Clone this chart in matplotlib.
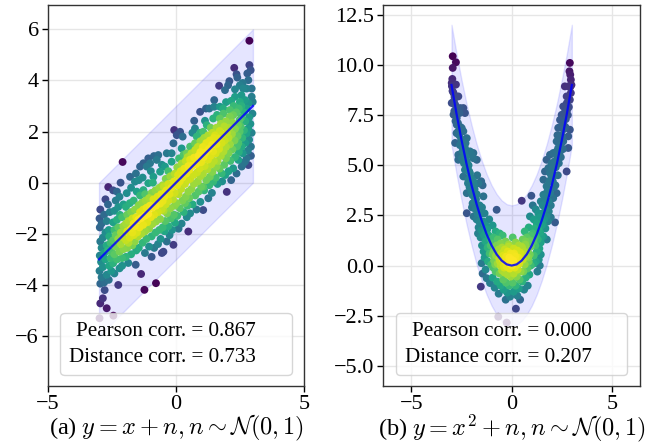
import numpy as np
import matplotlib
matplotlib.use("Agg")
import matplotlib.pyplot as plt
from matplotlib.lines import Line2D

plt.rcParams["font.family"] = ["Liberation Serif", "DejaVu Serif"]
plt.rcParams["mathtext.fontset"] = "cm"

# (a) y = x + n : scatter points
lin_points = np.array([
    # x in [-3, -2.5]
    (-2.98, -5.30), (-2.95, -4.72), (-2.70, -4.91), (-2.85, -4.52), (-2.78, -4.20), (-2.95, -3.95),
    (-2.80, -3.90), (-2.62, -3.80), (-2.90, -3.70), (-2.70, -3.60), (-2.98, -3.45), (-2.85, -3.30),
    (-2.60, -3.25), (-2.92, -3.10), (-2.75, -3.00), (-2.55, -2.95), (-2.97, -2.85), (-2.80, -2.75),
    (-2.65, -2.65), (-2.90, -2.55), (-2.70, -2.45), (-2.55, -2.35), (-2.95, -2.30), (-2.85, -2.15),
    (-2.60, -2.10), (-2.75, -1.95), (-2.97, -1.75), (-2.62, -1.85), (-2.90, -1.60), (-2.70, -1.50),
    (-2.98, -1.40), (-2.80, -1.25), (-2.58, -1.15), (-2.95, -1.05), (-2.65, -0.85), (-2.75, -0.65),
    (-2.64, -0.17), (-2.52, -3.45), (-2.52, -2.70),
    # x in [-2.5, -2]
    (-2.44, -5.20), (-2.25, -4.00), (-2.40, -3.55), (-2.20, -3.35), (-2.45, -3.15), (-2.30, -3.00),
    (-2.10, -2.95), (-2.40, -2.80), (-2.20, -2.70), (-2.05, -2.60), (-2.35, -2.50), (-2.15, -2.40),
    (-2.45, -2.25), (-2.25, -2.20), (-2.05, -2.15), (-2.35, -2.05), (-2.15, -1.95), (-2.40, -1.85),
    (-2.25, -1.75), (-2.05, -1.70), (-2.45, -1.55), (-2.30, -1.45), (-2.10, -1.35), (-2.18, -1.26),
    (-2.40, -1.10), (-2.25, -0.95), (-2.05, -0.85), (-2.35, -0.70), (-2.20, -0.55), (-2.30, -0.35),
    (-2.16, 0.00), (-2.08, 0.81), (-2.45, -0.30), (-2.10, -3.25),
    # x in [-2, -1.5]
    (-1.86, -3.14), (-1.57, -3.21), (-1.95, -2.90), (-1.75, -2.80), (-1.55, -2.65), (-1.90, -2.55),
    (-1.70, -2.45), (-1.60, -2.30), (-1.95, -2.25), (-1.80, -2.15), (-1.65, -2.05), (-1.52, -1.95),
    (-1.90, -1.90), (-1.75, -1.80), (-1.60, -1.70), (-1.95, -1.60), (-1.85, -1.50), (-1.70, -1.40),
    (-1.55, -1.35), (-1.90, -1.25), (-1.75, -1.15), (-1.60, -1.05), (-1.95, -0.95), (-1.80, -0.80),
    (-1.65, -0.70), (-1.92, -0.41), (-1.53, -0.35), (-1.75, -0.20), (-1.60, 0.04), (-1.79, 0.23),
    (-1.56, 0.36), (-1.85, -2.35), (-1.70, -1.95), (-1.65, -1.60),
    # x in [-1.5, -1]
    (-1.23, -4.19), (-1.36, -3.57), (-1.21, -2.75), (-1.45, -2.55), (-1.05, -2.50), (-1.30, -2.35),
    (-1.15, -2.20), (-1.48, -2.10), (-1.35, -2.00), (-1.20, -1.90), (-1.05, -1.80), (-1.42, -1.75),
    (-1.28, -1.65), (-1.12, -1.55), (-1.47, -1.45), (-1.35, -1.38), (-1.22, -1.30), (-1.08, -1.22),
    (-1.40, -1.15), (-1.28, -1.05), (-1.15, -0.98), (-1.02, -0.90), (-1.45, -0.88), (-1.32, -0.78),
    (-1.18, -0.70), (-1.05, -0.60), (-1.40, -0.50), (-1.27, -0.29), (-1.08, -0.02), (-1.45, 0.10),
    (-1.30, 0.20), (-1.14, 0.63), (-1.40, 0.63), (-1.27, 0.76), (-1.01, 0.76), (-1.08, 0.95),
    (-1.20, -0.45),
    # x in [-1, -0.5]
    (-0.78, -3.93), (-0.95, -2.90), (-0.55, -2.75), (-0.85, -2.55), (-0.70, -2.40), (-0.60, -2.20),
    (-0.95, -2.10), (-0.80, -1.95), (-0.65, -1.85), (-0.52, -1.75), (-0.92, -1.62), (-0.78, -1.52),
    (-0.62, -1.42), (-0.98, -1.35), (-0.85, -1.25), (-0.70, -1.15), (-0.55, -1.05), (-0.92, -0.98),
    (-0.78, -0.90), (-0.62, -0.82), (-0.52, -0.72), (-0.88, -0.65), (-0.72, -0.55), (-0.58, -0.45),
    (-0.95, -0.40), (-0.80, -0.30), (-0.65, -0.20), (-0.52, -0.10), (-0.90, 0.00), (-0.88, 0.23),
    (-0.62, 0.43), (-0.75, 0.89), (-0.86, 1.04), (-0.69, 1.08), (-0.55, 0.70), (-0.98, 0.45),
    # x in [-0.5, 0]
    (-0.49, -2.70), (-0.36, -2.30), (-0.10, -2.43), (-0.25, -2.05), (-0.45, -1.90), (-0.15, -1.85),
    (-0.30, -1.70), (-0.04, -1.57), (-0.42, -1.50), (-0.20, -1.40), (-0.08, -1.25), (-0.35, -1.20),
    (-0.48, -1.10), (-0.22, -1.00), (-0.05, -0.90), (-0.40, -0.85), (-0.30, -0.70), (-0.12, -0.65),
    (-0.45, -0.55), (-0.25, -0.45), (-0.05, -0.40), (-0.38, -0.30), (-0.18, -0.20), (-0.48, -0.15),
    (-0.30, -0.05), (-0.08, 0.05), (-0.40, 0.15), (-0.22, 0.25), (-0.05, 0.35), (-0.43, 0.63),
    (-0.17, 0.82), (-0.36, 1.15), (-0.17, 1.15), (-0.10, 1.54), (-0.07, 2.06), (-0.30, 0.45),
    # x in [0, 0.5]
    (0.48, -1.91), (0.10, -1.80), (0.22, -1.60), (0.42, -1.35), (0.05, -1.30), (0.30, -1.15),
    (0.15, -1.00), (0.45, -0.90), (0.02, -0.80), (0.25, -0.70), (0.38, -0.55), (0.10, -0.45),
    (0.48, -0.35), (0.20, -0.25), (0.05, -0.10), (0.35, -0.05), (0.15, 0.05), (0.45, 0.10),
    (0.25, 0.20), (0.08, 0.30), (0.40, 0.35), (0.18, 0.45), (0.32, 0.55), (0.05, 0.60),
    (0.48, 0.65), (0.22, 0.75), (0.38, 0.85), (0.12, 0.95), (0.45, 1.00), (0.42, 1.15),
    (0.22, 1.34), (0.30, 1.10), (0.26, 1.80), (0.03, 1.86), (0.16, 1.99), (0.35, -0.80),
    # x in [0.5, 1]
    (0.55, -1.20), (0.80, -1.05), (0.65, -0.85), (0.95, -0.75), (0.52, -0.60), (0.75, -0.50),
    (0.88, -0.35), (0.60, -0.25), (0.98, -0.15), (0.70, -0.05), (0.85, 0.05), (0.55, 0.15),
    (0.95, 0.25), (0.68, 0.30), (0.82, 0.40), (0.52, 0.50), (0.92, 0.55), (0.62, 0.65),
    (0.78, 0.72), (0.98, 0.80), (0.55, 0.90), (0.70, 0.98), (0.88, 1.05), (0.60, 1.15),
    (0.95, 1.20), (0.75, 1.28), (0.85, 1.40), (0.55, 1.41), (0.74, 1.54), (0.95, 1.62),
    (0.64, 1.95), (0.81, 1.80), (0.94, 1.95), (0.74, 2.12), (0.71, 2.42), (0.94, 2.77),
    # x in [1, 1.5]
    (1.06, -1.07), (1.26, -0.61), (1.40, -0.40), (1.10, -0.30), (1.06, -0.16), (1.30, -0.10),
    (1.45, 0.04), (1.18, 0.10), (1.32, 0.23), (1.05, 0.35), (1.42, 0.42), (1.22, 0.52),
    (1.12, 0.65), (1.38, 0.72), (1.48, 0.85), (1.25, 0.90), (1.08, 1.00), (1.35, 1.05),
    (1.15, 1.18), (1.45, 1.22), (1.28, 1.32), (1.05, 1.40), (1.40, 1.48), (1.18, 1.55),
    (1.32, 1.65), (1.48, 1.75), (1.10, 1.75), (1.25, 1.85), (1.42, 1.95), (1.06, 1.99),
    (1.35, 2.15), (1.20, 2.25), (1.45, 2.51), (1.13, 2.42), (1.17, 2.90), (1.30, 2.90),
    (1.49, 2.97), (1.49, 3.23),
    # x in [1.5, 2]
    (1.98, -0.36), (1.62, -0.05), (1.80, 0.05), (1.55, 0.20), (1.78, 0.36), (1.92, 0.30),
    (1.58, 0.63), (1.70, 0.55), (1.88, 0.70), (1.62, 0.85), (1.95, 0.95), (1.75, 1.05),
    (1.55, 1.15), (1.85, 1.22), (1.68, 1.32), (1.95, 1.40), (1.58, 1.50), (1.78, 1.55),
    (1.90, 1.65), (1.65, 1.72), (1.52, 1.85), (1.82, 1.88), (1.98, 1.95), (1.70, 2.02),
    (1.58, 2.15), (1.88, 2.20), (1.75, 2.30), (1.95, 2.40), (1.71, 2.51), (1.60, 2.65),
    (1.85, 2.70), (1.71, 2.97), (1.84, 2.90), (1.95, 3.15), (1.68, 3.79), (1.91, 3.62),
    # x in [2, 2.5]
    (2.15, 0.10), (2.36, 0.36), (2.05, 0.45), (2.23, 0.56), (2.43, 0.89), (2.12, 0.85),
    (2.30, 1.00), (2.05, 1.15), (2.45, 1.20), (2.20, 1.30), (2.38, 1.42), (2.10, 1.50),
    (2.43, 1.54), (2.28, 1.65), (2.05, 1.75), (2.40, 1.82), (2.18, 1.90), (2.48, 2.00),
    (2.30, 2.10), (2.08, 2.15), (2.42, 2.25), (2.20, 2.35), (2.48, 2.45), (2.10, 2.58),
    (2.23, 2.64), (2.35, 2.75), (2.10, 2.84), (2.45, 2.90), (2.25, 3.00), (2.49, 3.16),
    (2.15, 3.20), (2.30, 3.36), (2.30, 3.65), (2.49, 3.81), (2.08, 3.97), (2.03, 3.81),
    (2.39, 4.11), (2.36, 4.24), (2.27, 4.49),
    # x in [2.5, 3]
    (2.62, 0.76), (2.69, 0.82), (2.56, 0.63), (2.82, 0.69), (2.75, 0.95), (2.92, 1.05),
    (2.60, 1.15), (2.80, 1.25), (2.92, 1.41), (2.56, 1.41), (2.70, 1.55), (2.85, 1.68),
    (2.58, 1.75), (2.75, 1.93), (2.95, 1.95), (2.65, 2.05), (2.82, 2.12), (2.52, 2.20),
    (2.90, 2.30), (2.70, 2.40), (2.55, 2.55), (2.85, 2.55), (2.98, 2.70), (2.65, 2.75),
    (2.75, 2.90), (2.55, 3.00), (2.82, 3.10), (2.99, 3.16), (2.69, 3.23), (2.95, 3.36),
    (2.55, 3.42), (2.62, 3.68), (2.75, 3.68), (2.95, 3.68), (2.82, 4.01), (2.78, 4.27),
    (2.91, 4.40), (2.86, 4.60), (2.86, 5.55), (2.60, 3.90),
])

# (b) y = x^2 + n : scatter points
quad_points = np.array([
    # x in [-3, -2.5]
    (-2.94, 10.43), (-2.78, 10.13), (-2.94, 9.85), (-2.99, 9.10), (-2.78, 9.02), (-2.98, 8.94),
    (-2.90, 8.60), (-2.66, 8.43), (-2.99, 8.10), (-2.82, 8.02), (-2.57, 7.85), (-2.90, 7.52),
    (-2.74, 7.35), (-2.74, 7.02), (-2.66, 6.69), (-2.82, 6.11), (-2.66, 5.52), (-2.66, 5.27),
    (-2.60, 7.60), (-2.55, 6.90), (-2.70, 7.80), (-2.85, 8.40), (-2.95, 8.70), (-2.62, 6.50),
    (-2.52, 6.30), (-2.80, 7.20), (-2.88, 8.20), (-2.68, 7.10), (-2.58, 6.00), (-2.75, 6.60),
    (-2.96, 9.30), (-2.86, 7.70),
    # x in [-2.5, -2]
    (-2.41, 7.85), (-2.33, 7.60), (-2.49, 6.85), (-2.41, 6.69), (-2.24, 6.35), (-2.33, 5.86),
    (-2.08, 5.69), (-2.00, 5.52), (-2.49, 5.35), (-2.24, 5.19), (-2.33, 4.77), (-2.08, 4.60),
    (-2.41, 4.44), (-2.16, 4.27), (-2.24, 3.61), (-2.24, 2.61), (-2.45, 6.20), (-2.35, 5.60),
    (-2.28, 5.40), (-2.15, 5.00), (-2.05, 4.40), (-2.40, 5.90), (-2.20, 4.90), (-2.10, 3.90),
    (-2.30, 6.10), (-2.45, 5.70), (-2.12, 4.70), (-2.38, 5.10), (-2.02, 3.70), (-2.18, 4.10),
    # x in [-2, -1.5]
    (-1.91, 5.61), (-1.91, 5.35), (-1.74, 5.27), (-1.99, 4.28), (-1.91, 4.19), (-1.66, 4.10),
    (-1.52, 4.20), (-1.74, 3.55), (-1.95, 3.50), (-1.85, 3.20), (-1.98, 2.90), (-1.80, 2.80),
    (-1.90, 2.45), (-1.75, 2.30), (-1.62, 2.20), (-1.68, 1.60), (-1.55, 1.40), (-1.60, 3.00),
    (-1.85, 3.80), (-1.70, 2.60), (-1.95, 3.10), (-1.58, 2.55), (-1.78, 3.30), (-1.65, 1.90),
    (-1.88, 4.00), (-1.52, 1.75), (-1.98, 3.80), (-1.72, 4.50),
    # x in [-1.5, -1]
    (-1.41, 3.45), (-1.45, 4.00), (-1.48, 2.90), (-1.35, 2.60), (-1.42, 2.20), (-1.30, 2.00),
    (-1.45, 1.70), (-1.22, 1.80), (-1.38, 1.50), (-1.15, 1.50), (-1.30, 1.20), (-1.05, 1.30),
    (-1.48, 1.00), (-1.20, 0.90), (-1.40, 0.70), (-1.10, 0.60), (-1.35, 0.40), (-1.50, 0.12),
    (-1.18, 0.20), (-1.02, 0.05), (-1.30, -0.20), (-1.25, -0.63), (-1.08, -0.87), (-1.54, -1.05),
    (-1.45, -0.40), (-1.12, 2.30), (-1.28, 1.65), (-1.05, 1.00),
    # x in [-1, -0.5]
    (-0.75, 2.78), (-0.95, 2.00), (-0.80, 1.70), (-0.60, 1.60), (-0.90, 1.40), (-0.70, 1.30),
    (-0.55, 1.10), (-0.98, 1.10), (-0.85, 0.90), (-0.65, 0.80), (-0.52, 0.60), (-0.95, 0.55),
    (-0.78, 0.50), (-0.62, 0.35), (-0.88, 0.25), (-0.70, 0.10), (-0.55, 0.00), (-0.92, -0.10),
    (-0.80, -0.30), (-0.60, -0.40), (-0.95, -0.60), (-0.72, -0.80), (-0.55, -1.00), (-0.85, -1.10),
    (-0.67, -2.55), (-0.65, -1.40), (-0.90, 0.70), (-0.75, 1.00), (-0.58, 0.20), (-0.82, 0.05),
    # x in [-0.5, 0]
    (-0.45, 1.50), (-0.30, 1.20), (-0.15, 1.05), (-0.48, 0.90), (-0.35, 0.80), (-0.20, 0.70),
    (-0.05, 0.60), (-0.42, 0.50), (-0.28, 0.45), (-0.12, 0.40), (-0.45, 0.30), (-0.32, 0.20),
    (-0.18, 0.15), (-0.05, 0.10), (-0.40, 0.00), (-0.25, -0.05), (-0.10, -0.15), (-0.48, -0.25),
    (-0.35, -0.35), (-0.20, -0.45), (-0.05, -0.55), (-0.42, -0.70), (-0.28, -0.85), (-0.12, -1.00),
    (-0.40, -1.20), (-0.22, -1.35), (-0.08, -1.55), (-0.30, -1.70), (-0.25, -2.84), (-0.15, 0.95),
    (-0.38, -0.10), (-0.02, 0.30),
    # x in [0, 0.5]
    (0.05, 1.40), (0.20, 1.15), (0.35, 1.00), (0.48, 0.95), (0.10, 0.85), (0.28, 0.75),
    (0.42, 0.65), (0.05, 0.55), (0.18, 0.45), (0.32, 0.40), (0.45, 0.35), (0.08, 0.25),
    (0.22, 0.20), (0.38, 0.10), (0.02, 0.00), (0.15, -0.10), (0.30, -0.20), (0.45, -0.30),
    (0.10, -0.40), (0.25, -0.55), (0.40, -0.70), (0.05, -0.85), (0.20, -1.00), (0.35, -1.15),
    (0.10, -1.30), (0.28, -1.50), (0.42, -1.70), (0.21, -2.15), (0.50, 3.23), (0.12, 0.60),
    (0.35, 0.25), (0.25, 0.05),
    # x in [0.5, 1]
    (0.91, 2.45), (0.98, 3.48), (0.85, 1.90), (0.65, 1.70), (0.95, 1.50), (0.75, 1.40),
    (0.55, 1.30), (0.88, 1.20), (0.68, 1.05), (0.52, 0.90), (0.95, 0.95), (0.80, 0.80),
    (0.62, 0.70), (0.90, 0.55), (0.72, 0.45), (0.55, 0.30), (0.85, 0.20), (0.65, 0.05),
    (0.95, 0.00), (0.78, -0.15), (0.58, -0.30), (0.88, -0.45), (0.70, -0.60), (0.52, -0.80),
    (0.80, -1.00), (0.62, -1.20), (0.92, 1.25), (0.70, 1.20), (0.58, 0.55), (0.82, 0.40),
    # x in [1, 1.5]
    (1.05, 3.00), (1.20, 2.80), (1.45, 3.20), (1.33, 2.60), (1.10, 2.30), (1.40, 2.40),
    (1.25, 2.10), (1.48, 2.00), (1.15, 1.85), (1.33, 1.80), (1.05, 1.60), (1.42, 1.65),
    (1.20, 1.45), (1.30, 1.30), (1.08, 1.20), (1.45, 1.15), (1.18, 1.00), (1.38, 0.85),
    (1.25, 0.70), (1.45, 0.55), (1.10, 0.50), (1.35, 0.30), (1.20, 0.20), (1.10, 0.10),
    (1.40, 0.00), (1.28, -0.30), (1.48, 1.45), (1.12, 1.35),
    # x in [1.5, 2]
    (1.91, 5.52), (1.74, 5.27), (1.99, 5.10), (1.83, 4.86), (1.66, 4.69), (1.91, 4.61),
    (1.58, 4.28), (1.74, 3.95), (1.91, 3.61), (1.58, 3.53), (1.66, 3.45), (1.83, 3.20),
    (1.55, 3.00), (1.95, 3.00), (1.70, 2.80), (1.52, 2.60), (1.74, 2.45), (1.85, 2.70),
    (1.62, 2.30), (1.80, 2.20), (1.55, 2.05), (1.95, 2.40), (1.68, 1.85), (1.75, 1.30),
    (1.58, 1.45), (1.88, 4.20), (1.65, 3.10), (1.98, 4.40), (1.52, 2.20), (1.78, 3.70),
    # x in [2, 2.5]
    (2.07, 5.61), (2.24, 6.19), (2.41, 6.44), (2.32, 5.86), (2.32, 6.86), (2.41, 7.26),
    (2.49, 7.51), (2.07, 3.36), (2.24, 3.61), (2.16, 2.15), (2.05, 4.20), (2.12, 4.50),
    (2.20, 4.90), (2.02, 4.80), (2.15, 5.20), (2.28, 5.40), (2.35, 5.10), (2.10, 3.90),
    (2.45, 6.00), (2.30, 4.50), (2.25, 5.70), (2.40, 6.90), (2.48, 6.50), (2.18, 4.00),
    (2.38, 5.60), (2.05, 5.00), (2.45, 5.40), (2.28, 6.50),
    # x in [2.5, 3]
    (2.90, 10.10), (2.88, 9.68), (2.92, 9.51), (2.95, 9.26), (2.65, 8.93), (2.82, 8.93),
    (2.74, 8.43), (2.90, 8.26), (2.57, 7.93), (2.77, 7.76), (2.57, 7.10), (2.90, 6.77),
    (2.82, 6.44), (2.57, 6.19), (2.82, 5.86), (2.74, 4.69), (2.60, 6.80), (2.70, 7.30),
    (2.85, 7.90), (2.95, 8.60), (2.52, 6.40), (2.68, 6.90), (2.80, 7.50), (2.62, 7.60),
    (2.92, 8.90), (2.55, 5.80), (2.75, 8.10), (2.98, 9.00),
])

# fitted curves and +-3 bands
lin_curve_x = [-3.0, 3.0]
lin_curve_y = [-3.0, 3.0]
quad_curve_x = [-3.0, -2.75, -2.5, -2.25, -2.0, -1.75, -1.5, -1.25, -1.0, -0.75, -0.5, -0.25, 0.0,
                0.25, 0.5, 0.75, 1.0, 1.25, 1.5, 1.75, 2.0, 2.25, 2.5, 2.75, 3.0]
quad_curve_y = [9.0, 7.56, 6.25, 5.06, 4.0, 3.06, 2.25, 1.56, 1.0, 0.56, 0.25, 0.06, 0.0,
                0.06, 0.25, 0.56, 1.0, 1.56, 2.25, 3.06, 4.0, 5.06, 6.25, 7.56, 9.0]
band_half = 3.0

captions = [r"(a) $y=x+n, n\sim\mathcal{N}(0,1)$",
            r"(b) $y=x^2+n, n\sim\mathcal{N}(0,1)$"]
pearson = ["0.867", "0.000"]
dcor = ["0.733", "0.207"]


def density(pts):
    # gaussian kde (scott factor) evaluated at the points themselves
    p = pts.T
    n = p.shape[1]
    cov = np.cov(p) * n ** (-2.0 / 6.0)
    inv = np.linalg.inv(cov)
    d = p[:, :, None] - p[:, None, :]
    m = np.einsum("ijk,il,ljk->jk", d, inv, d)
    return np.exp(-0.5 * m).sum(axis=1)


fig = plt.figure(figsize=(6.67, 4.47), dpi=100)
ax1 = fig.add_axes([0.0715, 0.1365, 0.3847, 0.853])
ax2 = fig.add_axes([0.5747, 0.1365, 0.3849, 0.853])

panels = [
    (ax1, lin_points, lin_curve_x, lin_curve_y, (-5, 5), (-7.95, 6.96)),
    (ax2, quad_points, quad_curve_x, quad_curve_y, (-6.4, 6.4), (-6.0, 13.0)),
]

for i, (ax, pts, cx, cy, xl, yl) in enumerate(panels):
    cx = np.array(cx)
    cy = np.array(cy)
    ax.fill_between(cx, cy - band_half, cy + band_half, color="blue", alpha=0.1, zorder=1)
    z = density(pts)
    order = np.argsort(z)
    ax.scatter(pts[order, 0], pts[order, 1], c=z[order], cmap="viridis", s=32,
               linewidths=0, zorder=2)
    ax.plot(cx, cy, color="blue", lw=1.6, alpha=0.85, zorder=3)

    ax.set_xlim(*xl)
    ax.set_ylim(*yl)
    ax.set_xticks([-5, 0, 5])
    ax.set_axisbelow(True)
    ax.grid(True, color="#e6e6e6", lw=1.0)
    for s in ax.spines.values():
        s.set_color("0.2")
        s.set_linewidth(1.0)
    ax.tick_params(labelsize=16, length=4, width=1, pad=2.5)
    ax.set_xlabel(captions[i], fontsize=17.5, labelpad=-1)

    handles = [Line2D([], [], color="none"), Line2D([], [], color="none")]
    labels = ["Pearson corr. = " + pearson[i], "Distance corr. = " + dcor[i]]
    ax.legend(handles, labels, loc="lower center", fontsize=15.2, markerfirst=False,
              handlelength=0.5, handletextpad=0.8, labelspacing=0.3, borderpad=0.4,
              borderaxespad=0.5)

fig.savefig("out.png", dpi=100)
